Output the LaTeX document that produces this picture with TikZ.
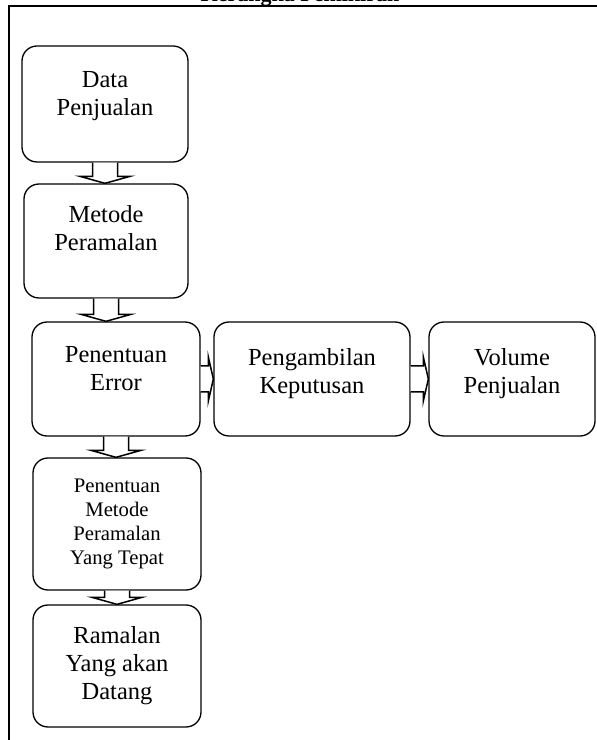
\documentclass[tikz,border=0pt]{standalone}
\usepackage{fontspec}
\setmainfont{Liberation Serif}
\usetikzlibrary{calc}

\tikzset{
  kotak/.style={draw, line width=1.3pt, rounded corners=15pt, align=center,
    inner sep=4pt, font=\fontsize{24.5}{28}\selectfont},
  kotakkecil/.style={kotak, font=\fontsize{20.7}{24}\selectfont},
  naik/.style={text depth=#1},
  panah/.style={draw, line width=1.5pt, fill=white}
}

% block arrow down, from one box to the next
\newcommand{\panahbawah}[2]{%
  \path[panah] let \p1=(#1.south), \p2=(#2.north) in
    (\x1-12.5pt,\y1) -- (\x1-12.5pt,\y2+7pt) -- (\x1-25pt,\y2+7pt) -- (\x1,\y2)
    -- (\x1+25pt,\y2+7pt) -- (\x1+12.5pt,\y2+7pt) -- (\x1+12.5pt,\y1);}
% block arrow right
\newcommand{\panahkanan}[2]{%
  \path[panah] let \p1=(#1.east), \p2=(#2.west) in
    (\x1,\y1+13pt) -- (\x2-5pt,\y1+13pt) -- (\x2-5pt,\y1+22pt) -- (\x2,\y1)
    -- (\x2-5pt,\y1-22pt) -- (\x2-5pt,\y1-13pt) -- (\x1,\y1-13pt);}

\begin{document}
\begin{tikzpicture}[x=1pt, y=1pt]
        \useasboundingbox (0,0) rectangle (597,740);
        % Title (cut off by the page)
        \node [anchor=base, font=\bfseries\fontsize{22}{26}\selectfont] (judul) at (300,738.5) {Kerangka Pemikiran};
        % Frame
        \draw [line width=2pt] (9,0) -- (9,734) -- (597,734);

        % Boxes
        \node [kotak, naik=22pt, minimum width=166pt, minimum height=116pt] (data) at (105,636) {Data\\Penjualan};
        \node [kotak, naik=26pt, minimum width=164pt, minimum height=114pt] (metode) at (106,499) {Metode\\Peramalan};
        \node [kotak, naik=22pt, minimum width=168pt, minimum height=114pt] (error) at (116,361) {Penentuan\\Error};
        \node [kotak, naik=16pt, minimum width=196pt, minimum height=114pt] (keputusan) at (312,361) {Pengambilan\\Keputusan};
        \node [kotak, naik=16pt, minimum width=166pt, minimum height=114pt] (volume) at (512,361) {Volume\\Penjualan};
        \node [kotakkecil, minimum width=168pt, minimum height=132pt] (tepat) at (117,216) {Penentuan\\Metode\\Peramalan\\Yang Tepat};
        \node [kotak, minimum width=168pt, minimum height=122pt] (ramalan) at (117,74) {Ramalan\\Yang akan\\Datang};

        % Arrows
        \panahbawah{data}{metode}
        \panahbawah{metode}{error}
        \panahkanan{error}{keputusan}
        \panahkanan{keputusan}{volume}
        \panahbawah{error}{tepat}
        \panahbawah{tepat}{ramalan}
\end{tikzpicture}
\end{document}
